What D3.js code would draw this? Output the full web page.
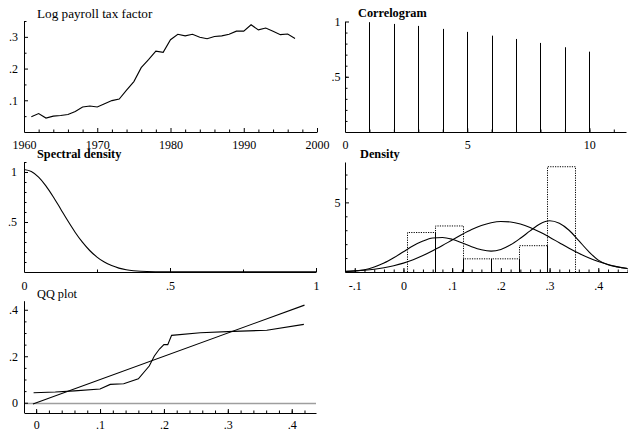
<!DOCTYPE html>
<html>
<head>
<meta charset="utf-8">
<script src="https://cdn.jsdelivr.net/npm/d3@7"></script>
<style>
  html, body { margin: 0; padding: 0; background: #fff; }
  svg { display: block; }
  svg text { font-family: "Liberation Serif", "DejaVu Serif", serif; fill: #000; }
  .tick text { font-size: 12px; }
</style>
</head>
<body>
<svg id="chart" width="628" height="431"></svg>
<script>
// ---- Log payroll tax factor, annual ----
const years = [1961,1962,1963,1964,1965,1966,1967,1968,1969,1970,1971,1972,1973,1974,1975,1976,1977,1978,1979,
               1980,1981,1982,1983,1984,1985,1986,1987,1988,1989,1990,1991,1992,1993,1994,1995,1996,1997];
const payrollTax = [0.048,0.058,0.044,0.050,0.052,0.055,0.065,0.079,0.082,0.079,0.089,0.099,0.104,0.132,0.159,0.203,0.228,0.255,0.251,
                    0.291,0.308,0.303,0.308,0.299,0.294,0.301,0.303,0.308,0.318,0.318,0.338,0.322,0.328,0.318,0.307,0.309,0.295];

// ---- Correlogram ----
const lags = [1,2,3,4,5,6,7,8,9,10];
const acf  = [0.994,0.978,0.960,0.933,0.906,0.872,0.842,0.806,0.767,0.727];

// ---- Spectral density ----
const freq     = [0,0.025,0.05,0.075,0.1,0.125,0.15,0.175,0.2,0.225,0.25,0.275,0.3,0.325,0.35,0.375,0.4,0.45,0.5,0.6,0.7,0.8,0.9,1];
const spectrum = [1.025,1.005,0.949,0.862,0.753,0.633,0.512,0.398,0.298,0.215,0.149,0.099,0.064,0.039,0.023,0.013,0.007,0.003,0.002,0.001,0.001,0.001,0.001,0.001];

// ---- Density: histogram, kernel estimate and fitted normal ----
const binStart  = [0.008,0.0654,0.1228,0.1802,0.2376,0.295];
const binHeight = [2.835,3.307,0.945,0.945,1.890,7.560];
const binWidth  = 0.0574;
const densX      = [-0.12,-0.10,-0.08,-0.06,-0.04,-0.02,0.00,0.02,0.04,0.06,0.08,0.10,0.12,0.14,0.16,0.18,0.20,0.22,0.24,0.26,0.28,0.30,0.32,0.34,0.36,0.38,0.40,0.42,0.44,0.46];
const kernelDens = [0.03,0.07,0.16,0.36,0.64,1.02,1.45,1.88,2.22,2.44,2.48,2.35,2.10,1.82,1.60,1.50,1.62,1.95,2.42,2.95,3.45,3.68,3.50,3.00,2.25,1.48,0.85,0.52,0.36,0.25];
const normalDens = [0.046,0.078,0.127,0.199,0.304,0.448,0.638,0.882,1.178,1.521,1.901,2.300,2.691,3.047,3.336,3.535,3.623,3.593,3.448,3.201,2.875,2.498,2.101,1.708,1.344,1.023,0.754,0.537,0.370,0.247];

// ---- QQ plot ----
const qqTheory = [-0.004,0.03,0.06,0.100,0.116,0.137,0.160,0.177,0.185,0.193,0.200,0.206,0.212,0.257,0.309,0.361,0.419];
const qqSample = [0.043,0.046,0.051,0.059,0.079,0.082,0.103,0.158,0.201,0.231,0.250,0.250,0.290,0.301,0.307,0.312,0.337];
const qqRef    = [-0.005,0.42];

// Tick step lists
const yearMajor = [1960,1970,1980,1990,2000];
const yearMinor = [1962,1964,1966,1968,1972,1974,1976,1978,1982,1984,1986,1988,1992,1994,1996,1998];

const FONT = '"Liberation Serif", "DejaVu Serif", serif';
const svg = d3.select("#chart");

// "0.3" -> ".3", "-0.1" -> "-.1"
function fmt(v) {
  const s = String(+(+v).toFixed(6));
  return s.replace(/^(-?)0\./, "$1.");
}
function stepList(a, b, step) {
  const out = [];
  const n = Math.round((b - a) / step);
  for (let i = 0; i <= n; i++) out.push(+(a + i * step).toFixed(6));
  return out;
}

function drawAxes(x, y, o) {
  const g = svg.append("g");
  const yBase = Math.round(y.range()[0]);
  const xBase = Math.round(x.range()[0]);
  g.append("g").attr("transform", `translate(0,${yBase})`)
    .call(d3.axisBottom(x).tickValues(o.xMinor).tickSize(-2.5).tickSizeOuter(0).tickFormat(""))
    .call(s => s.select(".domain").remove());
  g.append("g").attr("transform", `translate(0,${yBase})`)
    .call(d3.axisBottom(x).tickValues(o.xMajor).tickSize(-4).tickSizeOuter(0).tickPadding(o.padX).tickFormat(fmt));
  g.append("g").attr("transform", `translate(${xBase},0)`)
    .call(d3.axisLeft(y).tickValues(o.yMinor).tickSize(-2.5).tickSizeOuter(0).tickFormat(""))
    .call(s => s.select(".domain").remove());
  g.append("g").attr("transform", `translate(${xBase},0)`)
    .call(d3.axisLeft(y).tickValues(o.yMajor).tickSize(-4).tickSizeOuter(0).tickPadding(o.padY).tickFormat(fmt));
  g.selectAll("g").attr("font-family", FONT).attr("font-size", 12);
  g.selectAll(".domain").attr("stroke", "#000").attr("stroke-width", 1);
  g.selectAll(".tick line").attr("stroke", "#000");
}

function title(txt, x, y, bold, size) {
  svg.append("text").attr("x", x).attr("y", y)
    .attr("font-family", FONT)
    .attr("font-size", size).attr("font-weight", bold ? "bold" : "normal").text(txt);
}

// ===== Panel 1: time series =====
{
  const x = d3.scaleLinear().domain([1960, 2000]).range([24, 317]);
  const y = d3.scaleLinear().domain([0, 0.35]).range([132, 21]);
  drawAxes(x, y, { xMajor: yearMajor, xMinor: yearMinor, padX: 8.5,
                   yMajor: [0.1, 0.2, 0.3], yMinor: [0.05, 0.15, 0.25, 0.35], padY: 6 });
  svg.append("path").datum(years.map((d, i) => [d, payrollTax[i]]))
    .attr("fill", "none").attr("stroke", "#000").attr("stroke-width", 1.1)
    .attr("d", d3.line().x(d => x(d[0])).y(d => y(d[1])));
  title("Log payroll tax factor", 37, 18, false, 13.2);
}

// ===== Panel 2: correlogram =====
{
  const x = d3.scaleLinear().domain([0, 11.5]).range([345, 626]);
  const y = d3.scaleLinear().domain([0, 1]).range([132, 21.5]);
  drawAxes(x, y, { xMajor: [0, 5, 10], xMinor: stepList(1, 11, 1), padX: 8.5,
                   yMajor: [0.5, 1], yMinor: stepList(0.1, 0.9, 0.1), padY: 4.5 });
  svg.append("g").selectAll("line").data(lags).join("line")
    .attr("x1", d => Math.round(x(d)) + 0.5).attr("x2", d => Math.round(x(d)) + 0.5)
    .attr("y1", y(0)).attr("y2", (d, i) => y(acf[i]))
    .attr("stroke", "#000").attr("stroke-width", 1);
  title("Correlogram", 358, 17, true, 12.3);
}

// ===== Panel 3: spectral density =====
{
  const x = d3.scaleLinear().domain([0, 1]).range([24, 316]);
  const y = d3.scaleLinear().domain([0, 1.1]).range([272, 162]);
  drawAxes(x, y, { xMajor: [0, 0.5, 1], xMinor: [0.25, 0.75], padX: 9.5,
                   yMajor: [0.5, 1], yMinor: [0.1, 0.2, 0.3, 0.4, 0.6, 0.7, 0.8, 0.9, 1.1], padY: 7 });
  svg.append("path").datum(freq.map((d, i) => [d, spectrum[i]]))
    .attr("fill", "none").attr("stroke", "#000").attr("stroke-width", 1.1)
    .attr("d", d3.line().x(d => x(d[0])).y(d => y(d[1])).curve(d3.curveMonotoneX));
  title("Spectral density", 37, 158, true, 12.3);
}

// ===== Panel 4: density =====
{
  const x = d3.scaleLinear().domain([-0.12, 0.461]).range([345, 628]);
  const y = d3.scaleLinear().domain([0, 7.9]).range([272, 162]);
  drawAxes(x, y, { xMajor: [-0.1, 0, 0.1, 0.2, 0.3, 0.4], xMinor: stepList(-0.1, 0.46, 0.02), padX: 9.5,
                   yMajor: [5], yMinor: [1, 2, 3, 4, 6, 7], padY: 4.5 });
  const hist = svg.append("g");
  // dotted histogram bars
  hist.selectAll("path").data(binStart).join("path")
    .attr("fill", "none").attr("stroke", "#000").attr("stroke-width", 1)
    .attr("stroke-dasharray", "1.2,1.2")
    .attr("d", (d, i) => {
      const l = Math.round(x(d)) + 0.5, r = Math.round(x(d + binWidth)) + 0.5, t = y(binHeight[i]);
      return `M${l},${y(0)}V${t}H${r}V${y(0)}`;
    });
  // shared bar edges, solid up to the lower neighbour
  hist.selectAll("line").data(binStart.slice(1)).join("line")
    .attr("x1", d => Math.round(x(d)) + 0.5).attr("x2", d => Math.round(x(d)) + 0.5)
    .attr("y1", y(0)).attr("y2", (d, i) => y(Math.min(binHeight[i], binHeight[i + 1])))
    .attr("stroke", "#000").attr("stroke-width", 1);
  const line = d3.line().x(d => x(d[0])).y(d => y(d[1])).curve(d3.curveMonotoneX);
  svg.append("path").datum(densX.map((d, i) => [d, kernelDens[i]]))
    .attr("fill", "none").attr("stroke", "#000").attr("stroke-width", 1.1).attr("d", line);
  svg.append("path").datum(densX.map((d, i) => [d, normalDens[i]]))
    .attr("fill", "none").attr("stroke", "#000").attr("stroke-width", 1.1).attr("d", line);
  title("Density", 360, 158, true, 12.3);
}

// ===== Panel 5: QQ plot =====
{
  const x = d3.scaleLinear().domain([-0.019, 0.438]).range([24, 316]);
  const y = d3.scaleLinear().domain([-0.042, 0.439]).range([412.5, 300.7]);
  // zero reference line
  svg.append("line").attr("x1", 24).attr("x2", 316)
    .attr("y1", Math.round(y(0)) + 0.5).attr("y2", Math.round(y(0)) + 0.5)
    .attr("stroke", "#9e9e9e").attr("stroke-width", 1.3);
  drawAxes(x, y, { xMajor: [0, 0.1, 0.2, 0.3, 0.4], xMinor: stepList(0, 0.42, 0.02), padX: 7.5,
                   yMajor: [0, 0.2, 0.4], yMinor: [0.05, 0.1, 0.15, 0.25, 0.3, 0.35], padY: 6 });
  svg.append("path").datum(qqRef.map(d => [d, d]))
    .attr("fill", "none").attr("stroke", "#000").attr("stroke-width", 1.1)
    .attr("d", d3.line().x(d => x(d[0])).y(d => y(d[1])));
  svg.append("path").datum(qqTheory.map((d, i) => [d, qqSample[i]]))
    .attr("fill", "none").attr("stroke", "#000").attr("stroke-width", 1.1)
    .attr("d", d3.line().x(d => x(d[0])).y(d => y(d[1])));
  title("QQ plot", 37, 298, false, 12.3);
}
</script>
</body>
</html>
